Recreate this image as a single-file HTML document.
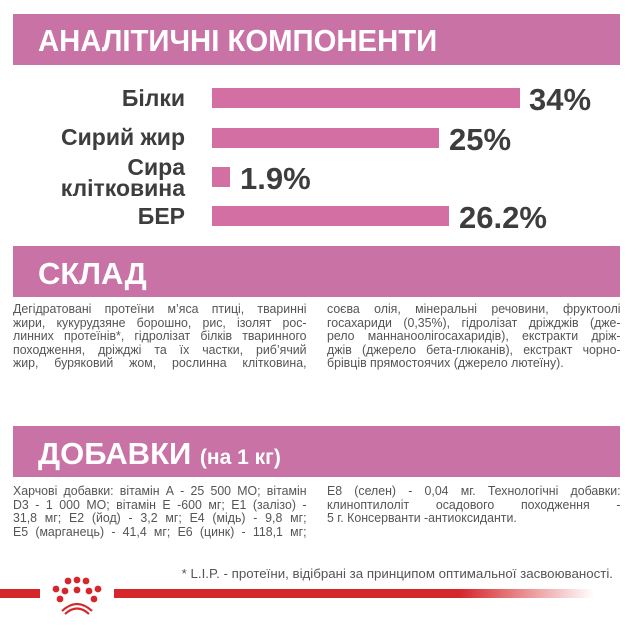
<!DOCTYPE html>
<html><head><meta charset="utf-8"><style>
*{margin:0;padding:0;box-sizing:border-box}
body{width:637px;height:630px;background:#fff;position:relative;overflow:hidden;font-family:"Liberation Sans",sans-serif;color:#444}
.hdr{position:absolute;left:13px;width:607px;background:#c872a5;color:#fff;font-weight:bold}
.hdr span{position:absolute;left:25px;white-space:nowrap}
.lab{position:absolute;right:452px;font-weight:bold;font-size:23px;color:#3d3d3d;text-align:right;line-height:21px}
.bar{position:absolute;left:212px;height:20px;background:#d46fa3}
.val{position:absolute;font-weight:bold;font-size:31px;color:#3d3d3d;line-height:31px}
.p{position:absolute;width:309px;transform:scaleX(0.95);transform-origin:0 0;font-size:13px;line-height:13.5px;color:#555}
.p div{text-align:justify;text-align-last:justify;white-space:nowrap}
.p div.l{text-align-last:left}
</style></head><body>
<div class="hdr" style="top:14px;height:51px"><span style="top:9px;font-size:31px;transform:scaleX(0.945);transform-origin:0 0">АНАЛІТИЧНІ КОМПОНЕНТИ</span></div>

<div class="lab" style="top:88px">Білки</div>
<div class="bar" style="top:88px;width:308px"></div>
<div class="val" style="left:529px;top:84px">34%</div>

<div class="lab" style="top:127px">Сирий жир</div>
<div class="bar" style="top:128px;width:227px"></div>
<div class="val" style="left:449px;top:124px">25%</div>

<div class="lab" style="top:157px">Сира<br>клітковина</div>
<div class="bar" style="top:167px;width:18px"></div>
<div class="val" style="left:240px;top:163px">1.9%</div>

<div class="lab" style="top:206px">БЕР</div>
<div class="bar" style="top:206px;width:237px"></div>
<div class="val" style="left:459px;top:202px">26.2%</div>

<div class="hdr" style="top:246px;height:51px"><span style="top:10px;font-size:31px">СКЛАД</span></div>
<div class="p" style="left:13px;top:302px">
<div>Дегідратовані протеїни м’яса птиці, тваринні</div>
<div>жири, кукурудзяне борошно, рис, ізолят рос-</div>
<div>линних протеїнів*, гідролізат білків тваринного</div>
<div>походження, дріжджі та їх частки, риб’ячий</div>
<div>жир, буряковий жом, рослинна клітковина,</div>
</div>
<div class="p" style="left:327px;top:302px">
<div>соєва олія, мінеральні речовини, фруктоолі</div>
<div>госахариди (0,35%), гідролізат дріжджів (дже-</div>
<div>рело маннаноолігосахаридів), екстракти дріж-</div>
<div>джів (джерело бета-глюканів), екстракт чорно-</div>
<div class="l">брівців прямостоячих (джерело лютеїну).</div>
</div>

<div class="hdr" style="top:426px;height:51px"><span style="top:10px;font-size:31px">ДОБАВКИ <span style="position:static;font-size:21px">(на 1 кг)</span></span></div>
<div class="p" style="left:13px;top:484px">
<div>Харчові добавки: вітамін А - 25 500 МО; вітамін</div>
<div>D3 - 1 000 МО; вітамін Е -600 мг; Е1 (залізо) -</div>
<div>31,8 мг; Е2 (йод) - 3,2 мг; Е4 (мідь) - 9,8 мг;</div>
<div>Е5 (марганець) - 41,4 мг; Е6 (цинк) - 118,1 мг;</div>
</div>
<div class="p" style="left:327px;top:484px">
<div>Е8 (селен) - 0,04 мг. Технологічні добавки:</div>
<div>клиноптилоліт осадового походження -</div>
<div class="l">5 г. Консерванти -антиоксиданти.</div>
</div>

<div style="position:absolute;right:24px;top:566px;font-size:13.3px;color:#555;white-space:nowrap">* L.I.P. - протеїни, відібрані за принципом оптимальної засвоюваності.</div>

<div style="position:absolute;left:0;top:589px;width:40px;height:9px;background:#d5262b"></div>
<div style="position:absolute;left:114px;top:589px;width:480px;height:9px;background:linear-gradient(90deg,#d5262b 0%,#d5262b 72%,rgba(213,38,43,0) 100%)"></div>
<svg style="position:absolute;left:44px;top:575px" width="66" height="40" viewBox="0 0 66 40">
<g fill="#d5262b">
<circle cx="24" cy="6" r="3.4"/><circle cx="33" cy="5" r="3.4"/><circle cx="42" cy="6" r="3.4"/>
<circle cx="12" cy="14" r="3.4"/><circle cx="21" cy="16" r="3.4"/><circle cx="33" cy="15" r="3.4"/><circle cx="45" cy="16" r="3.4"/><circle cx="54" cy="14" r="3.4"/>
<circle cx="16" cy="24" r="3.4"/><circle cx="50" cy="24" r="3.4"/>
</g>
<g fill="none" stroke="#d5262b" stroke-width="2.2">
<path d="M18 36 Q33 22 48 36"/><path d="M21 39 Q33 28 45 39"/>
</g>
</svg>
</body></html>
